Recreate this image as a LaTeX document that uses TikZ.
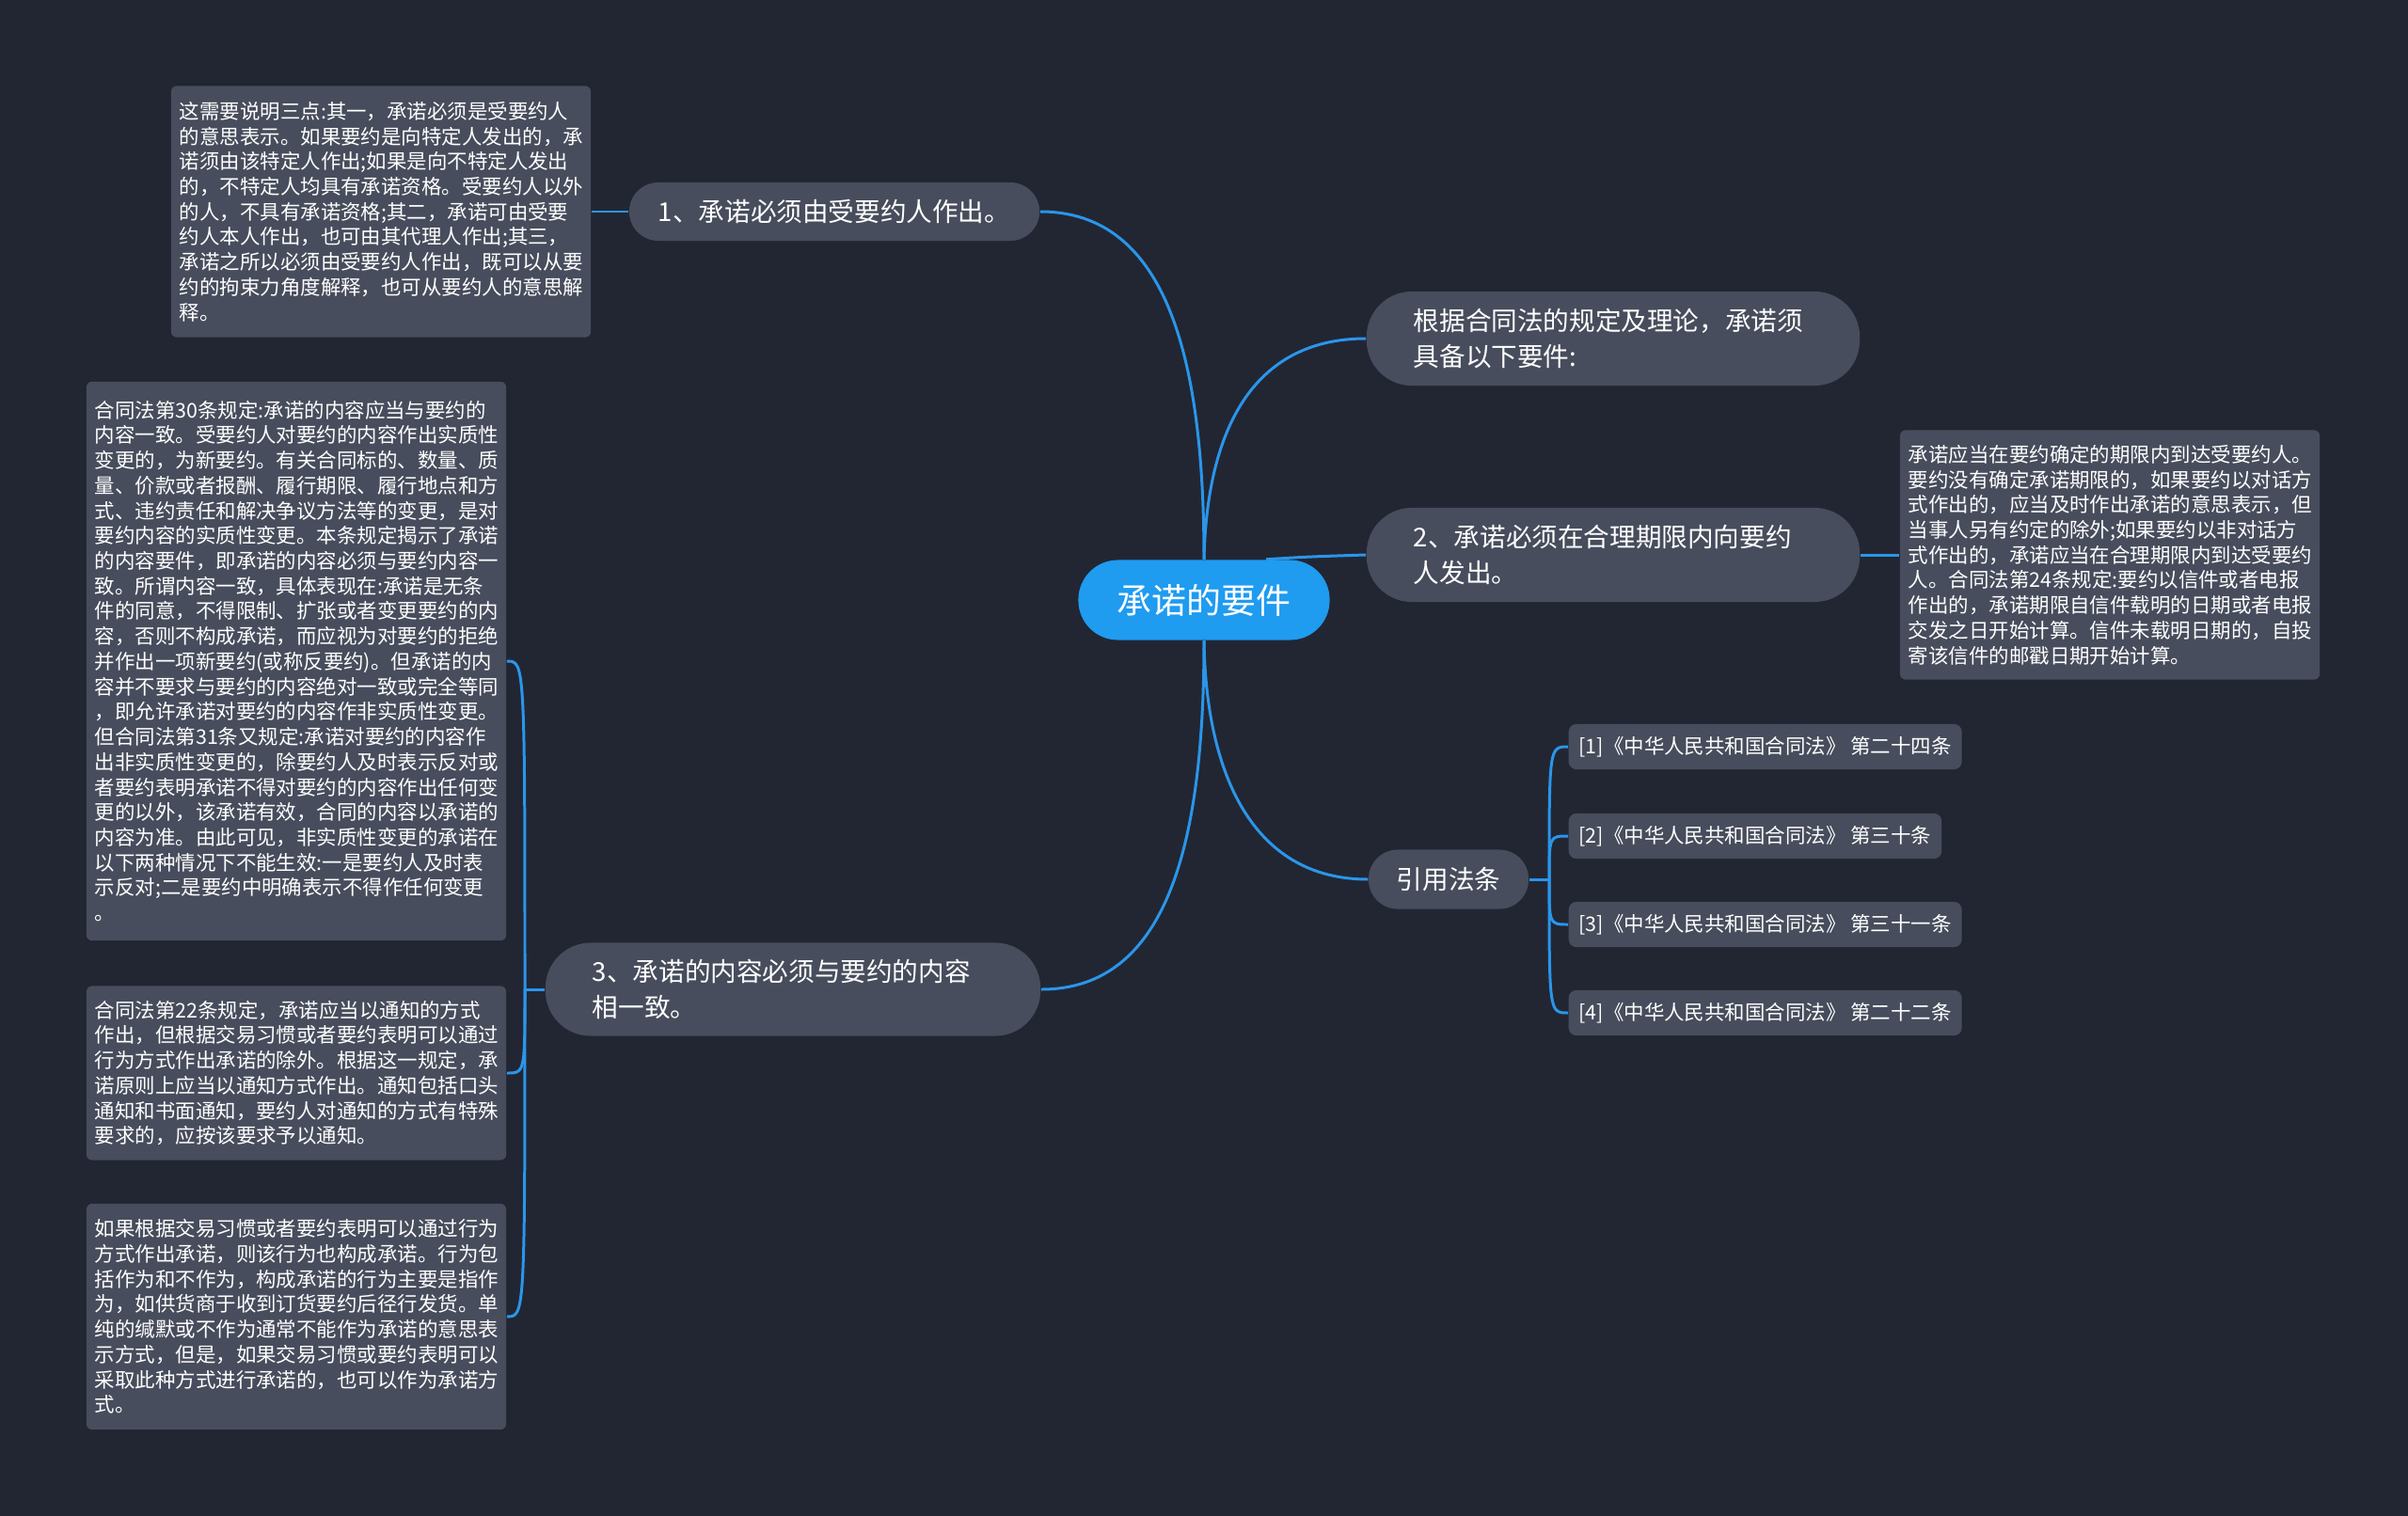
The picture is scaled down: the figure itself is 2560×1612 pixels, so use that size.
\documentclass[tikz,border=0pt]{standalone}
\usepackage{fontspec}
\setmainfont{Noto Sans CJK SC}
\definecolor{bgdark}{HTML}{222633}
\definecolor{boxgray}{HTML}{474D5C}
\definecolor{linkblue}{HTML}{2A96EA}
\definecolor{rootblue}{HTML}{1F9BF0}

\begin{document}
\begin{tikzpicture}[x=0.01cm, y=-0.01cm,
	every node/.style={text=white, inner sep=0pt},
	linkline/.style={linkblue, line width=0.85pt},
	subtopic/.style={fill=boxgray, align=left, font=\fontsize{7.85}{10.8}\selectfont},
	notebox/.style={fill=boxgray, rounded corners=0.06cm, align=left, text width=4.28cm, minimum width=4.46cm, font=\fontsize{6.1}{7.6}\selectfont},
	lawbox/.style={fill=boxgray, rounded corners=0.08cm, inner xsep=0.11cm, minimum height=0.48cm, anchor=west, font=\fontsize{6.1}{7.6}\selectfont}]
	\fill[bgdark] (0,0) rectangle (2560,1612);
	\useasboundingbox (0,0) rectangle (2560,1612);
	% centre and main branches
	\node[fill=rootblue, rounded corners=0.42cm, minimum width=2.67cm, minimum height=0.85cm, font=\fontsize{10.5}{12}\selectfont] (root) at (1280,638) {承诺的要件};
	\node[subtopic, rounded corners=0.31cm, minimum width=4.36cm, minimum height=0.62cm] (req1) at (887,225) {1、承诺必须由受要约人作出。};
	\node[subtopic, rounded corners=0.48cm, minimum width=5.24cm, minimum height=1cm, text width=4.24cm] (intro) at (1715,360) {根据合同法的规定及理论，承诺须\\具备以下要件:};
	\node[subtopic, rounded corners=0.48cm, minimum width=5.24cm, minimum height=1cm, text width=4.24cm] (req2) at (1715,590) {2、承诺必须在合理期限内向要约\\人发出。};
	\node[subtopic, rounded corners=0.48cm, minimum width=5.26cm, minimum height=0.99cm, text width=4.26cm] (req3) at (843,1052) {3、承诺的内容必须与要约的内容\\相一致。};
	\node[subtopic, rounded corners=0.31cm, minimum width=1.7cm, minimum height=0.63cm] (cite) at (1540,935) {引用法条};
	% explanations
	\node[notebox, minimum height=2.67cm] (note1) at (405,225) {这需要说明三点:其一，承诺必须是受要约人\\的意思表示。如果要约是向特定人发出的，承\\诺须由该特定人作出;如果是向不特定人发出\\的，不特定人均具有承诺资格。受要约人以外\\的人，不具有承诺资格;其二，承诺可由受要\\约人本人作出，也可由其代理人作出;其三，\\承诺之所以必须由受要约人作出，既可以从要\\约的拘束力角度解释，也可从要约人的意思解\\释。};
	\node[notebox, minimum height=2.65cm] (note2) at (2243,590) {承诺应当在要约确定的期限内到达受要约人。\\要约没有确定承诺期限的，如果要约以对话方\\式作出的，应当及时作出承诺的意思表示，但\\当事人另有约定的除外;如果要约以非对话方\\式作出的，承诺应当在合理期限内到达受要约\\人。合同法第24条规定:要约以信件或者电报\\作出的，承诺期限自信件载明的日期或者电报\\交发之日开始计算。信件未载明日期的，自投\\寄该信件的邮戳日期开始计算。};
	\node[notebox, minimum height=5.94cm] (note3a) at (315,703) {合同法第30条规定:承诺的内容应当与要约的\\内容一致。受要约人对要约的内容作出实质性\\变更的，为新要约。有关合同标的、数量、质\\量、价款或者报酬、履行期限、履行地点和方\\式、违约责任和解决争议方法等的变更，是对\\要约内容的实质性变更。本条规定揭示了承诺\\的内容要件，即承诺的内容必须与要约内容一\\致。所谓内容一致，具体表现在:承诺是无条\\件的同意，不得限制、扩张或者变更要约的内\\容，否则不构成承诺，而应视为对要约的拒绝\\并作出一项新要约(或称反要约)。但承诺的内\\容并不要求与要约的内容绝对一致或完全等同\\，即允许承诺对要约的内容作非实质性变更。\\但合同法第31条又规定:承诺对要约的内容作\\出非实质性变更的，除要约人及时表示反对或\\者要约表明承诺不得对要约的内容作出任何变\\更的以外，该承诺有效，合同的内容以承诺的\\内容为准。由此可见，非实质性变更的承诺在\\以下两种情况下不能生效:一是要约人及时表\\示反对;二是要约中明确表示不得作任何变更\\。};
	\node[notebox, minimum height=1.85cm] (note3b) at (315,1141) {合同法第22条规定，承诺应当以通知的方式\\作出，但根据交易习惯或者要约表明可以通过\\行为方式作出承诺的除外。根据这一规定，承\\诺原则上应当以通知方式作出。通知包括口头\\通知和书面通知，要约人对通知的方式有特殊\\要求的，应按该要求予以通知。};
	\node[notebox, minimum height=2.40cm] (note3c) at (315,1400) {如果根据交易习惯或者要约表明可以通过行为\\方式作出承诺，则该行为也构成承诺。行为包\\括作为和不作为，构成承诺的行为主要是指作\\为，如供货商于收到订货要约后径行发货。单\\纯的缄默或不作为通常不能作为承诺的意思表\\示方式，但是，如果交易习惯或要约表明可以\\采取此种方式进行承诺的，也可以作为承诺方\\式。};
	% cited articles
	\foreach \i/\y/\art in {1/794/第二十四条, 2/889/第三十条, 3/983/第三十一条, 4/1077/第二十二条}
		\node[lawbox] (law\i) at (1667,\y) {[\i]《中华人民共和国合同法》 \art};
	% connectors
	\draw[linkline] (root.north) .. controls (1280,380) and (1240,225) .. (req1.east);
	\draw[linkline] (root.north) .. controls (1283,460) and (1330,360) .. (intro.west);
	\draw[linkline] ([xshift=0.66cm]root.north) .. controls (1390,592) .. (req2.west);
	\draw[linkline] (root.south) .. controls (1280,900) and (1240,1052) .. (req3.east);
	\draw[linkline] (root.south) .. controls (1282,820) and (1330,935) .. (cite.west);
	\draw[linkline] (req1.west) -- (note1.east);
	\draw[linkline] (req2.east) -- (note2.west);
	\coordinate (fork3) at (558,1052);
	\draw[linkline] (req3.west) -- (fork3);
	\foreach \n in {note3a, note3b, note3c}
		\draw[linkline] (fork3) .. controls (fork3 |- \n.east) .. (\n.east);
	\coordinate (forkc) at (1647,935);
	\draw[linkline] (cite.east) -- (forkc);
	\foreach \i in {1,...,4}
		\draw[linkline] (forkc) .. controls (forkc |- law\i.west) .. (law\i.west);
\end{tikzpicture}
\end{document}
